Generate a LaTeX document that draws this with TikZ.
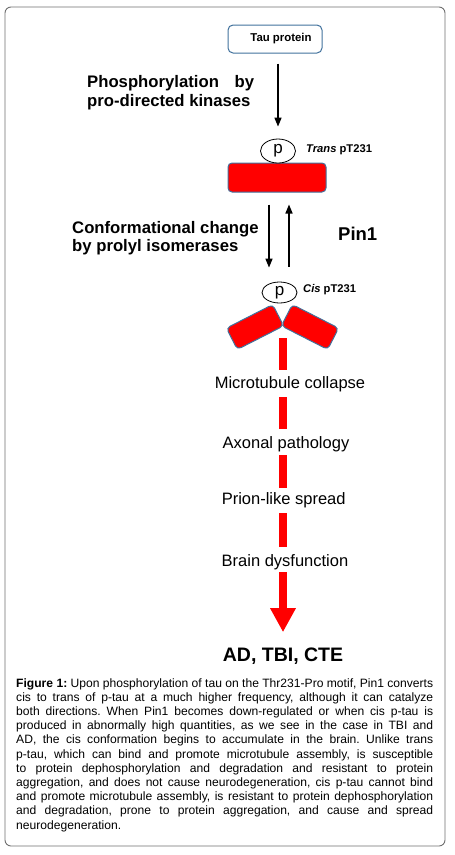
\documentclass[tikz,border=0pt]{standalone}
\usepackage{fontspec}
\setmainfont{Liberation Sans}
\usetikzlibrary{arrows.meta,shapes.geometric}
\definecolor{boxblue}{HTML}{41719C}
\definecolor{framegray}{HTML}{6E6E6E}
\frenchspacing
\begin{document}
\begin{tikzpicture}[x=1pt,y=-1pt,
  headline/.style={font=\fontsize{16.7}{19}\selectfont\bfseries, inner sep=0, anchor=base west},
  stage/.style={font=\fontsize{16.5}{19}\selectfont, inner sep=0, anchor=base},
  smalllab/.style={font=\fontsize{11.2}{13}\selectfont\bfseries, inner sep=0, anchor=west},
  blackarrow/.style={-{Triangle[length=9pt,width=7pt]}, line width=1.5pt},
  redbar/.style={line width=8pt, red, line cap=butt},
  pball/.style={ellipse, draw, fill=white, line width=0.8pt, inner sep=0, minimum width=35pt, font=\fontsize{17}{17}\selectfont},
  cisbox/.style={fill=red, draw=boxblue, line width=1pt, rounded corners=4pt, minimum width=52pt, minimum height=24pt, inner sep=0}
]
\useasboundingbox (0,0) rectangle (455,855);
\draw[framegray, line width=0.9pt, rounded corners=6pt] (5,7) rectangle (445,846);

% top part
\node[draw=boxblue, line width=1pt, rounded corners=5pt, minimum width=94pt, minimum height=28pt, inner sep=0,
      font=\fontsize{11.4}{13}\selectfont\bfseries] (tau) at (275,39) {\hspace*{12pt}Tau protein};
\node[headline] (phos1) at (87,87.3) {\makebox[167pt][s]{Phosphorylation by}};
\node[headline] (phos2) at (87,106) {pro-directed kinases};

\node[fill=red, draw=boxblue, line width=1pt, rounded corners=4pt, minimum width=98pt, minimum height=29pt, inner sep=0] (trans) at (277,177.5) {};
\node[pball, minimum height=24pt] (ptrans) at (278,151) {p};
\node[smalllab] (translab) at (306,150) {\textit{Trans} pT231};

\draw[blackarrow, shorten <=10pt, shorten >=12pt] (ptrans.north |- tau.south) -- (ptrans.north);

\node[headline] (conf1) at (72,233.3) {Conformational change};
\node[headline] (conf2) at (72,251.7) {by prolyl isomerases};
\node[font=\fontsize{18.5}{20}\selectfont\bfseries, inner sep=0, anchor=base west] (pin) at (338,240.7) {Pin1};

% cis part
\node[cisbox, rotate=27] (cisL) at (255,327) {};
\node[cisbox, rotate=-27] (cisR) at (310,327) {};
\node[pball, minimum height=21pt] (pcis) at (279.5,292.5) {p};
\node[smalllab] (cislab) at (303,290) {\textit{Cis} pT231};

\draw[blackarrow, shorten <=12pt, shorten >=14pt] ([xshift=-8pt]trans.south) -- ([xshift=-8pt]trans.south |- pcis.north);
\draw[blackarrow, shorten <=15pt, shorten >=12pt] ([xshift=12pt]trans.south |- pcis.north) -- ([xshift=12pt]trans.south);

% cascade
\coordinate (axis) at (283,338);
\node[stage] (m1) at (290,388) {Microtubule collapse};
\node[stage] (m2) at (286,448) {Axonal pathology};
\node[stage] (m3) at (283.7,504) {Prion-like spread};
\node[stage] (m4) at (285,566.7) {Brain dysfunction};
\node[font=\fontsize{19.5}{22}\selectfont\bfseries, inner sep=0, anchor=base] (dis) at (283,661.7) {AD, TBI, CTE};

\draw[redbar, shorten >=6pt] (axis) -- (axis |- m1.north);
\draw[redbar, shorten <=5.5pt, shorten >=7pt] (axis |- m1.south) -- (axis |- m2.north);
\draw[redbar, shorten <=3.5pt, shorten >=4pt] (axis |- m2.south) -- (axis |- m3.north);
\draw[redbar, shorten <=5.5pt, shorten >=8pt] (axis |- m3.south) -- (axis |- m4.north);
\draw[redbar, -{Triangle[length=24pt,width=24pt]}, shorten <=2pt, shorten >=15.7pt] (axis |- m4.south) -- (axis |- dis.north);

% caption
\node[anchor=north west, inner sep=0, align=left, font=\fontsize{12.1}{14.2}\selectfont] (cap) at (16,678.2) {%
\makebox[417pt][s]{\textbf{Figure 1:} Upon phosphorylation of tau on the Thr231-Pro motif, Pin1 converts}\\
\makebox[417pt][s]{cis to trans of p-tau at a much higher frequency, although it can catalyze}\\
\makebox[417pt][s]{both directions. When Pin1 becomes down-regulated or when cis p-tau is}\\
\makebox[417pt][s]{produced in abnormally high quantities, as we see in the case in TBI and}\\
\makebox[417pt][s]{AD, the cis conformation begins to accumulate in the brain. Unlike trans}\\
\makebox[417pt][s]{p-tau, which can bind and promote microtubule assembly, is susceptible}\\
\makebox[417pt][s]{to protein dephosphorylation and degradation and resistant to protein}\\
\makebox[417pt][s]{aggregation, and does not cause neurodegeneration, cis p-tau cannot bind}\\
\makebox[417pt][s]{and promote microtubule assembly, is resistant to protein dephosphorylation}\\
\makebox[417pt][s]{and degradation, prone to protein aggregation, and cause and spread}\\
neurodegeneration.};
\end{tikzpicture}
\end{document}
